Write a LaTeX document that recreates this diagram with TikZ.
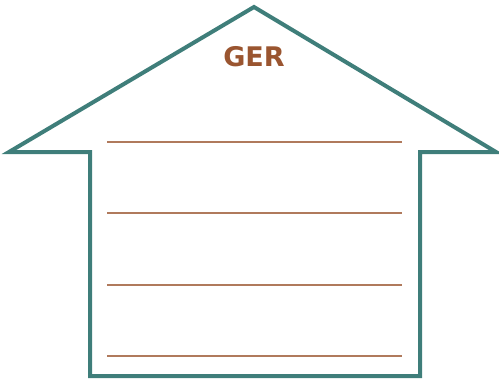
\documentclass[tikz,border=0pt]{standalone}
\usepackage{fontspec}
\setmainfont{DejaVu Sans}
\usetikzlibrary{positioning}

\definecolor{houseteal}{HTML}{3F7E7A}
\definecolor{gerbrown}{HTML}{9A5530}
\definecolor{linebrown}{HTML}{B07A5C}

\begin{document}
\begin{tikzpicture}[x=1pt, y=-1pt,
    house/.style={draw=houseteal, line width=4pt, line join=miter},
    writeline/.style={draw=linebrown, line width=2.4pt}]
    \useasboundingbox (0, 0) rectangle (499, 380);
    % outline of the house
    \draw[house] (90, 376) -- (90, 152) -- (9, 152) -- (254, 7) -- (496, 152)
        -- (420, 152) -- (420, 376) -- cycle;
    \node[font=\bfseries\fontsize{27}{30}\selectfont, text=gerbrown] (ger) at (254, 57) {GER};
    % lines to write on
    \foreach \y [count=\i] in {142, 213, 285, 356} {
        \coordinate (l\i) at (107, \y);
        \coordinate (r\i) at (402, \y);
        \draw[writeline] (l\i) -- (r\i);
    }
\end{tikzpicture}
\end{document}
